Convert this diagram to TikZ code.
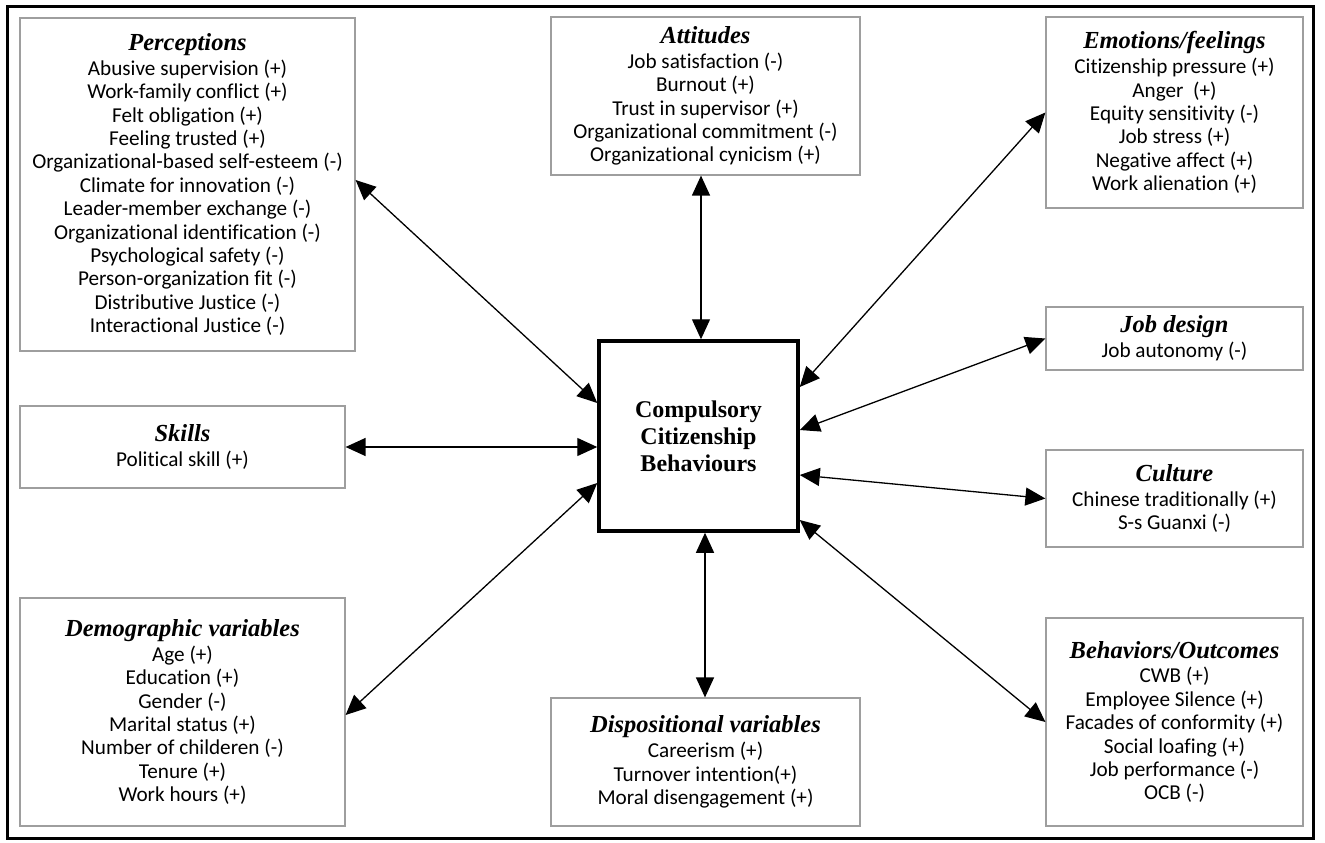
\documentclass[tikz,border=0pt]{standalone}
\usepackage{fontspec}
\setmainfont{Carlito}[Ligatures=NoCommon]
\newfontfamily\ttlfont{Liberation Serif}
\usetikzlibrary{arrows.meta}
\tikzset{
  catbox/.style={draw=black!38, line width=1.2pt, align=center, inner sep=0pt,
    font=\fontsize{21.2}{23.4}\selectfont},
  corebox/.style={draw=black, line width=3.5pt, align=center, inner sep=0pt,
    font=\ttlfont\bfseries\fontsize{24}{27}\selectfont},
  dbl/.style={{Triangle[length=20pt,width=18pt]}-{Triangle[length=20pt,width=18pt]}, line width=1.3pt},
  frame/.style={draw=black, line width=3pt}
}
\newcommand{\cattitle}[1]{{\ttlfont\bfseries\itshape\fontsize{24.5}{25}\selectfont #1}}
\begin{document}
\begin{tikzpicture}[x=1pt,y=-1pt]
\useasboundingbox (0,0) rectangle (1325,843);
\path[frame] (7,7) rectangle (1313,838);

\node[catbox, minimum width=335pt, minimum height=333pt] (perc) at (187.5,184.5)
  {\cattitle{Perceptions}\\[1.5pt]
   Abusive supervision (+)\\ Work-family conflict (+)\\ Felt obligation (+)\\
   Feeling trusted (+)\\ Organizational-based self-esteem (-)\\ Climate for innovation (-)\\
   Leader-member exchange (-)\\ Organizational identification (-)\\ Psychological safety (-)\\
   Person-organization fit (-)\\ Distributive Justice (-)\\ Interactional Justice (-)};

\node[catbox, minimum width=309pt, minimum height=158pt] (att) at (705.5,96)
  {\cattitle{Attitudes}\\[1.5pt]
   Job satisfaction (-)\\ Burnout (+)\\ Trust in supervisor (+)\\
   Organizational commitment (-)\\ Organizational cynicism (+)};

\node[catbox, minimum width=257pt, minimum height=191pt] (emo) at (1174.5,112.5)
  {\cattitle{Emotions/feelings}\\[1.5pt]
   Citizenship pressure (+)\\ Anger~~(+)\\ Equity sensitivity (-)\\
   Job stress (+)\\ Negative affect (+)\\ Work alienation (+)};

\node[catbox, minimum width=257pt, minimum height=63pt] (job) at (1174.5,338.5)
  {\cattitle{Job design}\\[1.5pt] Job autonomy (-)};

\node[catbox, minimum width=257pt, minimum height=97pt] (cul) at (1174.5,498.5)
  {\cattitle{Culture}\\[1.5pt] Chinese traditionally (+)\\ S-s Guanxi (-)};

\node[catbox, minimum width=257pt, minimum height=208pt] (beh) at (1174.5,722)
  {\cattitle{Behaviors/Outcomes}\\[1.5pt]
   CWB (+)\\ Employee Silence (+)\\ Facades of conformity (+)\\
   Social loafing (+)\\ Job performance (-)\\ OCB (-)};

\node[catbox, minimum width=325pt, minimum height=82pt] (sk) at (182.5,447)
  {\cattitle{Skills}\\[1.5pt] Political skill (+)};

\node[catbox, minimum width=325pt, minimum height=228pt] (dem) at (182.5,712)
  {\cattitle{Demographic variables}\\[1.5pt]
   Age (+)\\ Education (+)\\ Gender (-)\\ Marital status (+)\\
   Number of childeren (-)\\ Tenure (+)\\ Work hours (+)};

\node[catbox, minimum width=309pt, minimum height=128pt] (disp) at (705.5,762)
  {\cattitle{Dispositional variables}\\[1.5pt]
   Careerism (+)\\ Turnover intention(+)\\ Moral disengagement (+)};

\node[corebox, minimum width=199pt, minimum height=190pt] (cc) at (698.5,436)
  {Compulsory\\ Citizenship\\ Behaviours};

% connectors
\draw[dbl] ([yshift=4.5pt]perc.east) -- ([yshift=33pt]cc.west);
\draw[dbl] ([xshift=2.5pt]cc.north |- att.south) -- ([xshift=2.5pt]cc.north);
\draw[dbl] (emo.west) -- ([yshift=49pt]cc.east);
\draw[dbl] (job.west) -- ([yshift=6pt]cc.east);
\draw[dbl] ([yshift=-39pt]cc.east) -- (cul.west);
\draw[dbl] ([yshift=-84pt]cc.east) -- (beh.west);
\draw[dbl] (sk.east) -- (cc.west |- sk.east);
\draw[dbl] ([yshift=-3pt]dem.east) -- ([yshift=-47pt]cc.west);
\draw[dbl] ([xshift=6.5pt]cc.south) -- ([xshift=6.5pt]cc.south |- disp.north);
\end{tikzpicture}
\end{document}
